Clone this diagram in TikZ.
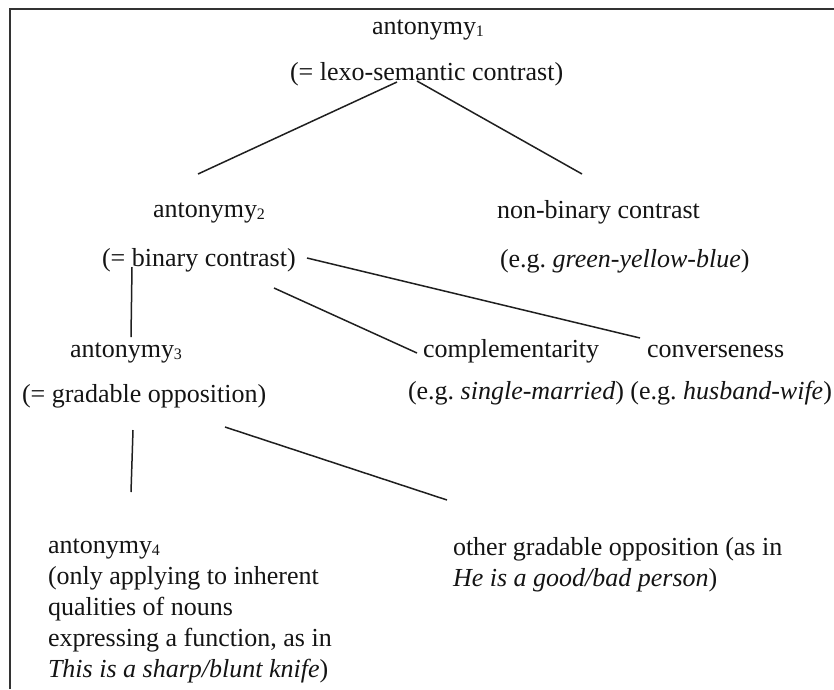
\documentclass[tikz,border=0pt]{standalone}
\usepackage{fontspec}
\setmainfont{Liberation Serif}
\frenchspacing
\newcommand\lowdigit[1]{\raisebox{-2pt}{\fontsize{16}{16}\selectfont #1}}
\begin{document}
\begin{tikzpicture}[x=1pt,y=-1pt,
  lbl/.style={anchor=base west,inner sep=0pt,outer sep=0pt,text=black!92,
              font=\fontsize{26}{31}\selectfont\frenchspacing},
  branch/.style={draw=black!88,line width=1.5pt},
  frame/.style={draw=black!80,line width=1.6pt}]
\useasboundingbox[fill=white] (0,0) rectangle (834,689);
% frame (left and top edges)
\coordinate (fb) at (10,689);
\coordinate (fc) at (10,9);
\coordinate (fr) at (834,9);
\draw[frame] (fb) -- (fc) -- (fr);

% level 1
\node[lbl] (a1) at (372,34) {antonymy\lowdigit{1}};
\node[lbl] (a1d) at (290,80) {(= lexo-semantic contrast)};

% level 2
\node[lbl] (a2) at (153,217) {antonymy\lowdigit{2}};
\node[lbl] (a2d) at (102,266) {(= binary contrast)};
\node[lbl] (nb) at (497,218) {non-binary contrast};
\node[lbl] (nbd) at (500,267) {(e.g. \textit{green-yellow-blue})};

% level 3
\node[lbl] (a3) at (70,357) {antonymy\lowdigit{3}};
\node[lbl] (a3d) at (22,402) {(= gradable opposition)};
\node[lbl] (cp) at (423,357) {complementarity};
\node[lbl] (cv) at (647,357) {converseness};
\node[lbl] (ex) at (408,399) {(e.g. \textit{single-married}) (e.g. \textit{husband-wife})};

% level 4
\node[lbl] (a4) at (48,553) {antonymy\lowdigit{4}};
\node[lbl] (a4a) at (48,584) {(only applying to inherent};
\node[lbl] (a4b) at (48,615) {qualities of nouns};
\node[lbl] (a4c) at (48,646) {expressing a function, as in};
\node[lbl] (a4d) at (48,677) {\textit{This is a sharp/blunt knife})};
\node[lbl] (og) at (453,555) {other gradable opposition (as in};
\node[lbl] (oga) at (453,586) {\textit{He is a good/bad person})};

% connector end points
\coordinate (a1l) at (397,82);
\coordinate (a1r) at (417,81);
\coordinate (a2t) at (198,174);
\coordinate (nbt) at (582,174);
\coordinate (a2v) at (132,267);
\coordinate (a3t) at (131,337);
\coordinate (a2m) at (274,288);
\coordinate (cpt) at (417,353);
\coordinate (a2r) at (307,258);
\coordinate (cvt) at (640,338);
\coordinate (a3v) at (133,430);
\coordinate (a4t) at (131,492);
\coordinate (a3r) at (225,427);
\coordinate (ogt) at (447,500);

\draw[branch] (a1l) -- (a2t);
\draw[branch] (a1r) -- (nbt);
\draw[branch] (a2v) -- (a3t);
\draw[branch] (a2m) -- (cpt);
\draw[branch] (a2r) -- (cvt);
\draw[branch] (a3v) -- (a4t);
\draw[branch] (a3r) -- (ogt);
\end{tikzpicture}
\end{document}
